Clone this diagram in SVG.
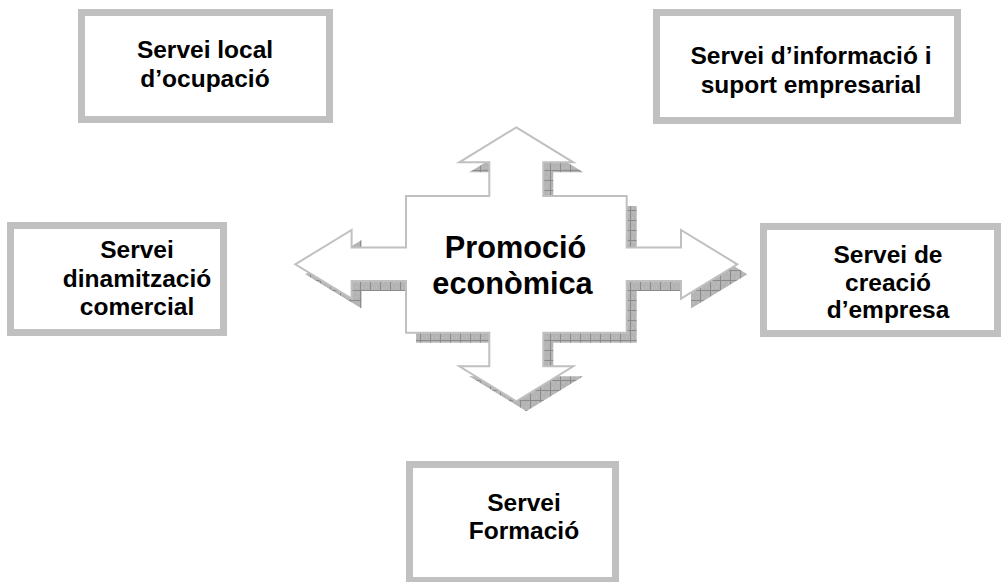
<svg xmlns="http://www.w3.org/2000/svg" xmlns:xlink="http://www.w3.org/1999/xlink" width="1004" height="582" viewBox="0 0 1004 582">
<style>
  .box { fill: #ffffff; stroke: #c0c0c0; stroke-width: 7; }
  .lbl { font-family: "Liberation Sans", Arial, sans-serif; font-weight: bold; font-size: 24.5px; fill: #000; text-anchor: middle; }
  .big { font-size: 30.7px; }
  .qa { fill: #ffffff; stroke: #c0c0c0; stroke-width: 2; stroke-linejoin: miter; }
  .qs { fill: url(#hatch); stroke: none; }
</style>
<defs>
  <pattern id="hatch" width="10" height="10" patternUnits="userSpaceOnUse">
    <rect width="10" height="10" fill="#b4b4b4"/>
    <path d="M0,0.5 H10 M0.5,0 V10" stroke="#8c8c8c" stroke-width="1"/>
    <path d="M3,3 h1 M6,7 h1 M8,3 h1 M2,8 h1" stroke="#c8c8c8" stroke-width="1"/>
  </pattern>
  <path id="quad" d="M516.3,127.3 L573.3,162.3 L543.3,162.3 L543.3,196 L626.7,196 L626.7,247.6 L681,247.6 L681,230 L737.3,264.3 L681,298.6 L681,281 L626.7,281 L626.7,332.7 L543.3,332.7 L543.3,366.3 L573.3,366.3 L516.3,401.3 L459.3,366.3 L489.3,366.3 L489.3,332.7 L406,332.7 L406,281 L351.6,281 L351.6,298.6 L295.3,264.3 L351.6,230 L351.6,247.6 L406,247.6 L406,196 L489.3,196 L489.3,162.3 L459.3,162.3 Z"/>
</defs>
<rect width="1004" height="582" fill="#ffffff"/>
<g id="connectors"/>
<g id="promocio">
  <use xlink:href="#quad" href="#quad" class="qs" transform="translate(10,10)"/>
  <use xlink:href="#quad" href="#quad" class="qa"/>
  <text class="lbl big" x="515.5" y="257.7">Promoció</text>
  <text class="lbl big" x="512.5" y="294">econòmica</text>
</g>
<g id="servei-local">
  <rect class="box" x="81.5" y="12.5" width="248" height="107"/>
  <text class="lbl" x="205" y="57.5">Servei local</text>
  <text class="lbl" x="205" y="87">d’ocupació</text>
</g>
<g id="servei-informacio">
  <rect class="box" x="656.5" y="12.5" width="301" height="108"/>
  <text class="lbl" x="811" y="64">Servei d’informació i</text>
  <text class="lbl" x="811" y="93">suport empresarial</text>
</g>
<g id="servei-dinamitzacio">
  <rect class="box" x="10.5" y="225.5" width="213" height="107"/>
  <text class="lbl" x="137" y="258">Servei</text>
  <text class="lbl" x="137" y="286.5">dinamització</text>
  <text class="lbl" x="137" y="315">comercial</text>
</g>
<g id="servei-creacio">
  <rect class="box" x="763.5" y="226.5" width="234" height="107"/>
  <text class="lbl" x="888" y="263">Servei de</text>
  <text class="lbl" x="888" y="290.5">creació</text>
  <text class="lbl" x="888" y="318">d’empresa</text>
</g>
<g id="servei-formacio">
  <rect class="box" x="409.5" y="464.5" width="206" height="116"/>
  <text class="lbl" x="524" y="511">Servei</text>
  <text class="lbl" x="524" y="539">Formació</text>
</g>
</svg>
